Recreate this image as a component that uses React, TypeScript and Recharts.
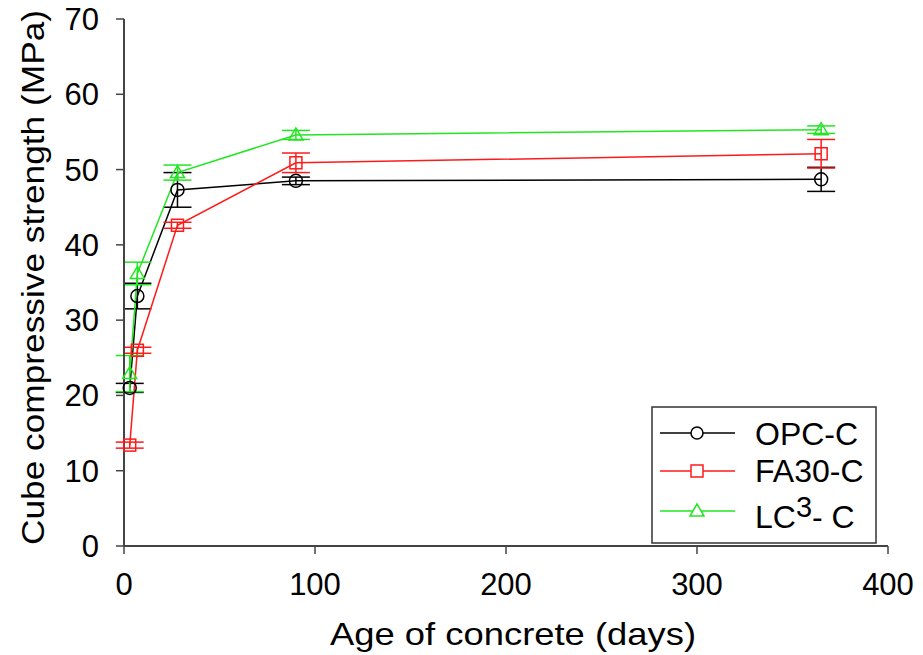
import React from 'react';
import {
  LineChart,
  Line,
  XAxis,
  YAxis,
  ErrorBar,
} from 'recharts';

/* =======================
   Data
======================= */
const days = [3, 7, 28, 90, 365];

const opc = [21.0, 33.2, 47.3, 48.5, 48.7];
const opcErr = [0.6, 1.7, 2.3, 0.5, 1.6];

const fa30 = [13.4, 26.0, 42.6, 50.9, 52.1];
const fa30Err = [0.4, 0.4, 0.4, 1.3, 1.9];

const lc3 = [22.9, 36.2, 49.6, 54.6, 55.3];
const lc3Err = [2.4, 1.5, 1.0, 0.6, 0.5];

const xTicks = [0, 100, 200, 300, 400];
const yTicks = [0, 10, 20, 30, 40, 50, 60, 70];

const data = days.map((d, i) => ({
  day: d,
  opc: opc[i],
  opcErr: opcErr[i],
  fa30: fa30[i],
  fa30Err: fa30Err[i],
  lc3: lc3[i],
  lc3Err: lc3Err[i],
}));

/* =======================
   Colors
======================= */
const COLORS = {
  opc: '#000000',
  fa30: '#ff1a1a',
  lc3: '#22e622',
  axis: '#444444',
};

const FONT = '"Liberation Sans", Arial, sans-serif';

/* =======================
   Markers
======================= */
const CircleDot = (props: any) => {
  const { cx, cy, index } = props;
  return (
    <circle key={`c-${index}`} cx={cx} cy={cy} r={6.5} fill="none" stroke={COLORS.opc} strokeWidth={1.5} />
  );
};

const SquareDot = (props: any) => {
  const { cx, cy, index } = props;
  return (
    <rect key={`s-${index}`} x={cx - 6} y={cy - 6} width={12} height={12} fill="none" stroke={COLORS.fa30} strokeWidth={1.5} />
  );
};

const TriangleDot = (props: any) => {
  const { cx, cy, index } = props;
  return (
    <polygon
      key={`t-${index}`}
      points={`${cx},${cy - 7} ${cx - 7},${cy + 5} ${cx + 7},${cy + 5}`}
      fill="none"
      stroke={COLORS.lc3}
      strokeWidth={1.5}
    />
  );
};

/* =======================
   Axis titles
======================= */
const YTitle = () => (
  <text
    x={-545}
    y={33}
    transform="rotate(-90)"
    textLength={535}
    lengthAdjust="spacingAndGlyphs"
    dominantBaseline="central"
    style={{ fontSize: 32, fill: '#000', fontFamily: FONT }}
  >
    Cube compressive strength (MPa)
  </text>
);

const XTitle = () => (
  <text
    x={330}
    y={634}
    textLength={366}
    lengthAdjust="spacingAndGlyphs"
    dominantBaseline="central"
    style={{ fontSize: 32, fill: '#000', fontFamily: FONT }}
  >
    Age of concrete (days)
  </text>
);

/* =======================
   Legend
======================= */
const legendText = { fontSize: 32, fill: '#000', fontFamily: FONT };

const ChartLegend = () => (
  <g>
    <rect x={652} y={407} width={224} height={136} fill="#fff" stroke="#333" strokeWidth={1.5} />

    <line x1={660} y1={433} x2={735} y2={433} stroke={COLORS.opc} strokeWidth={1.5} />
    <circle cx={697} cy={433} r={6} fill="#fff" stroke={COLORS.opc} strokeWidth={1.5} />
    <text x={755} y={434} dominantBaseline="central" style={legendText}>OPC-C</text>

    <line x1={660} y1={471} x2={735} y2={471} stroke={COLORS.fa30} strokeWidth={1.5} />
    <rect x={691} y={465} width={12} height={12} fill="#fff" stroke={COLORS.fa30} strokeWidth={1.5} />
    <text x={755} y={471} dominantBaseline="central" style={legendText}>FA30-C</text>

    <line x1={660} y1={511} x2={735} y2={511} stroke={COLORS.lc3} strokeWidth={1.5} />
    <polygon points="697,504 690,516 704,516" fill="#fff" stroke={COLORS.lc3} strokeWidth={1.5} />
    <text x={755} y={528} style={legendText}>
      LC
      <tspan dy={-11} style={{ fontSize: 29 }}>3</tspan>
      <tspan dy={11}>- C</tspan>
    </text>
  </g>
);

/* =======================
   Component
======================= */
const App: React.FC = () => {
  const tickStyle = { fontSize: 31, fill: '#000', fontFamily: FONT };

  return (
    <div style={{ position: 'absolute', left: 0, top: 0, width: 923, height: 655, background: '#fff' }}>
      <LineChart
        width={923}
        height={655}
        data={data}
        margin={{ top: 19, right: 35, left: 0, bottom: 0 }}
      >
        <XAxis
          dataKey="day"
          type="number"
          domain={[0, 400]}
          ticks={xTicks}
          height={109}
          tick={tickStyle}
          tickLine={{ stroke: COLORS.axis, strokeWidth: 1.5 }}
          tickSize={8}
          tickMargin={19}
          axisLine={{ stroke: COLORS.axis, strokeWidth: 2 }}
        />
        <YAxis
          type="number"
          domain={[0, 70]}
          ticks={yTicks}
          width={124}
          tick={tickStyle}
          tickLine={{ stroke: COLORS.axis, strokeWidth: 1.5 }}
          tickSize={8}
          tickMargin={17}
          axisLine={{ stroke: COLORS.axis, strokeWidth: 2 }}
        />
        <Line
          dataKey="opc"
          stroke={COLORS.opc}
          strokeWidth={1.5}
          dot={CircleDot}
          activeDot={false}
          isAnimationActive={false}
        >
          <ErrorBar dataKey="opcErr" direction="y" width={14} stroke={COLORS.opc} strokeWidth={1.5} />
        </Line>
        <Line
          dataKey="fa30"
          stroke={COLORS.fa30}
          strokeWidth={1.5}
          dot={SquareDot}
          activeDot={false}
          isAnimationActive={false}
        >
          <ErrorBar dataKey="fa30Err" direction="y" width={14} stroke={COLORS.fa30} strokeWidth={1.5} />
        </Line>
        <Line
          dataKey="lc3"
          stroke={COLORS.lc3}
          strokeWidth={1.5}
          dot={TriangleDot}
          activeDot={false}
          isAnimationActive={false}
        >
          <ErrorBar dataKey="lc3Err" direction="y" width={14} stroke={COLORS.lc3} strokeWidth={1.5} />
        </Line>
        <YTitle />
        <XTitle />
        <ChartLegend />
      </LineChart>
    </div>
  );
};

export default App;
